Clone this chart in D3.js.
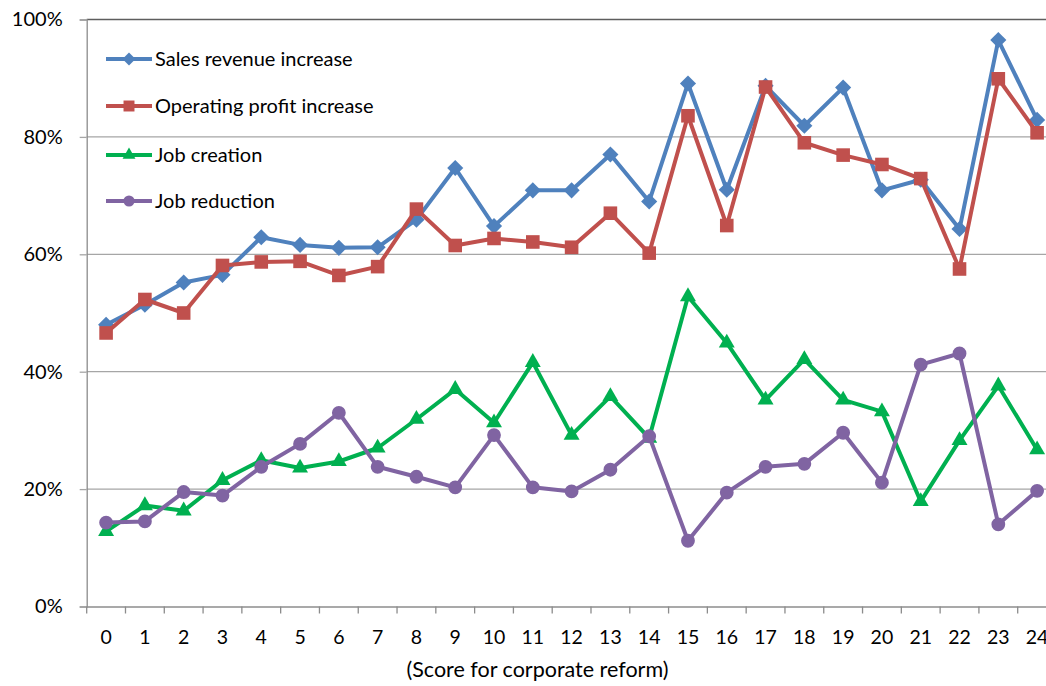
<!DOCTYPE html>
<html><head><meta charset="utf-8">
<script src="https://cdn.jsdelivr.net/npm/d3@7"></script>
<style>body{margin:0;background:#fff}svg{display:block}text{font-family:Lato,"Open Sans",sans-serif;fill:#000}</style>
</head><body><svg id="c" width="1046" height="686"></svg>
<script>
const categories = ["0","1","2","3","4","5","6","7","8","9","10","11","12","13","14","15","16","17","18","19","20","21","22","23","24"];
const salesRevenue = [48.0,51.4,55.2,56.5,62.9,61.6,61.1,61.2,65.9,74.7,64.8,70.9,70.9,77.0,69.0,89.1,71.0,88.7,81.9,88.4,70.9,72.7,64.3,96.5,82.9];
const operatingProfit = [46.6,52.3,50.0,58.1,58.7,58.8,56.4,57.9,67.7,61.5,62.7,62.1,61.2,67.0,60.2,83.6,64.9,88.5,79.0,76.9,75.3,72.9,57.5,89.9,80.7];
const jobCreation = [12.8,17.2,16.3,21.5,24.9,23.6,24.7,27.0,31.9,37.0,31.3,41.6,29.2,35.8,28.7,52.8,44.9,35.2,42.1,35.2,33.2,17.9,28.3,37.6,26.7];
const jobReduction = [14.3,14.5,19.5,18.9,23.8,27.7,33.0,23.8,22.1,20.3,29.2,20.3,19.6,23.3,29.0,11.2,19.4,23.8,24.3,29.6,21.1,41.2,43.1,14.0,19.7];
const yTicks = [0,20,40,60,80,100];
const seriesNames = ["Sales revenue increase","Operating profit increase","Job creation","Job reduction"];
const xTitle = "(Score for corporate reform)";

const series = [
  {name: seriesNames[0], values: salesRevenue, color: "#4F81BD", sym: "diamond"},
  {name: seriesNames[1], values: operatingProfit, color: "#C0504D", sym: "square"},
  {name: seriesNames[2], values: jobCreation, color: "#00B050", sym: "triangle"},
  {name: seriesNames[3], values: jobReduction, color: "#8064A2", sym: "circle"}
];

const svg = d3.select("#c");
const L = 86.7, R = 1056.5, T = 19.5, B = 606.5;
const x = d3.scaleBand().domain(categories).range([L, R]);
const y = d3.scaleLinear().domain([0, 100]).range([B, T]);

// gridlines
svg.append("g").selectAll("line").data(yTicks.filter(d => d > 0)).join("line")
  .attr("x1", L).attr("x2", R).attr("y1", d => y(d)).attr("y2", d => y(d))
  .attr("stroke", d => d === 100 ? "#5e5e5e" : "#a6a6a6").attr("stroke-width", d => d === 100 ? 1.6 : 1.3);

// y axis
const yAx = svg.append("g").attr("transform", `translate(${L},0)`)
  .call(d3.axisLeft(y).tickValues(yTicks).tickFormat(d => d + "%").tickSize(7).tickPadding(17));
yAx.select(".domain").attr("stroke", "#8c8c8c").attr("stroke-width", 1.3);
yAx.selectAll(".tick line").attr("stroke", "#a6a6a6").attr("stroke-width", 1.3);
yAx.selectAll("text").attr("font-size", 20).attr("font-family", "Lato, sans-serif").attr("fill", "#000");

// x axis
const xAx = svg.append("g").attr("transform", `translate(0,${B})`)
  .call(d3.axisBottom(x).tickSize(0));
xAx.select(".domain").attr("stroke", "#8c8c8c").attr("stroke-width", 1.3);
xAx.selectAll("text").attr("font-size", 19.5).attr("font-family", "Lato, sans-serif").attr("fill", "#000")
  .attr("y", 30.3).attr("dy", "0.35em");
// tick marks at band boundaries
const bounds = categories.map(c => x(c)).concat([R]);
svg.append("g").selectAll("line").data(bounds).join("line")
  .attr("x1", d => d).attr("x2", d => d).attr("y1", B).attr("y2", B + 7)
  .attr("stroke", "#8c8c8c").attr("stroke-width", 1.3);

svg.append("text").attr("x", 537.5).attr("y", 677).attr("text-anchor", "middle")
  .attr("font-size", 21.5).text(xTitle);

const diamond = {draw(ctx, size) { const r = Math.sqrt(size) / 2 * Math.SQRT2; ctx.moveTo(0, -r); ctx.lineTo(r, 0); ctx.lineTo(0, r); ctx.lineTo(-r, 0); ctx.closePath(); }};
const symMap = {diamond: [diamond, 130], square: [d3.symbolSquare, 185], triangle: [d3.symbolTriangle, 110], circle: [d3.symbolCircle, 150]};
const cx = c => x(c) + x.bandwidth() / 2;
const line = d3.line().x((d, i) => cx(categories[i])).y(d => y(d));

series.forEach(s => {
  svg.append("path").datum(s.values).attr("d", line).attr("fill", "none")
    .attr("stroke", s.color).attr("stroke-width", 4).attr("stroke-linejoin", "round");
  const [st, sz] = symMap[s.sym];
  svg.append("g").selectAll("path").data(s.values).join("path")
    .attr("transform", (d, i) => `translate(${cx(categories[i])},${y(d)})`)
    .attr("d", d3.symbol().type(st).size(sz)).attr("fill", s.color);
});

// legend
const legY = [59, 106, 155, 201];
series.forEach((s, i) => {
  const g = svg.append("g").attr("transform", `translate(106,${legY[i]})`);
  g.append("line").attr("x1", 0).attr("x2", 46).attr("y1", 0).attr("y2", 0)
    .attr("stroke", s.color).attr("stroke-width", 4);
  const [st, sz] = symMap[s.sym];
  g.append("path").attr("transform", "translate(23,0)").attr("d", d3.symbol().type(st).size(sz * 0.65)).attr("fill", s.color);
  g.append("text").attr("x", 49).attr("y", 7).attr("font-size", 20).text(s.name);
});
</script></body></html>
